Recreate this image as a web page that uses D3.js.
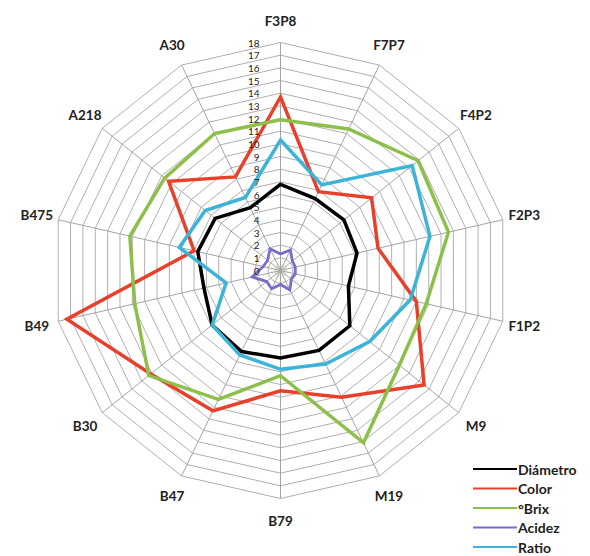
<!DOCTYPE html>
<html>
<head>
<meta charset="utf-8">
<script src="https://cdn.jsdelivr.net/npm/d3@7"></script>
<style>
  html, body { margin: 0; padding: 0; background: #fff; }
  svg { display: block; }
</style>
</head>
<body>
<div id="chart"></div>
<script>
// ---- data ----
const categories = ["F3P8","F7P7","F4P2","F2P3","F1P2","M9","M19","B79","B47","B30","B49","B475","A218","A30"];
const diametro = [6.8, 6.3, 6.4, 6.2, 5.5, 7.0, 7.0, 6.9, 7.1, 6.9, 6.2, 6.7, 6.6, 5.5];
const colorVals = [13.7, 6.9, 9.2, 7.9, 11.0, 14.5, 11.1, 9.5, 12.3, 13.1, 17.3, 7.0, 11.3, 8.2];
const brix = [11.9, 12.4, 13.9, 13.6, 11.8, 12.0, 15.1, 8.3, 11.3, 13.3, 11.8, 12.2, 11.7, 12.0];
const acidez = [1.3, 1.8, 1.2, 1.2, 1.2, 1.1, 1.7, 1.1, 1.6, 1.4, 2.3, 1.4, 1.3, 1.9];
const ratio = [10.3, 7.5, 13.3, 12.1, 10.5, 9.0, 8.2, 7.8, 7.4, 6.9, 4.4, 8.2, 7.6, 6.4];
const seriesNames = ["Diámetro", "Color", "°Brix", "Acidez", "Ratio"];
const tickValues = d3.range(0, 19);

const seriesData = [diametro, colorVals, brix, acidez, ratio];
const seriesColors = ["#000000", "#e8402a", "#8cc04a", "#7a6ccc", "#3cb4d8"];
const seriesWidths = [3.5, 3.5, 3.5, 2.8, 3.5];

// ---- layout ----
const W = 590, H = 556;
const cx = 280.5, cy = 270.5, R = 228;

const svg = d3.select("#chart").append("svg")
  .attr("width", W).attr("height", H)
  .style("background", "#fff");

const r = d3.scaleLinear().domain([0, 18]).range([0, R]);
const ang = d3.scaleLinear().domain([0, categories.length]).range([0, 2 * Math.PI]);

const g = svg.append("g").attr("transform", `translate(${cx},${cy})`);

// faint centre disk
g.append("circle").attr("r", 7).attr("fill", "#e9ecdc").attr("stroke", "none");

// rings
const ringLine = d3.lineRadial().curve(d3.curveLinearClosed)
  .angle((d, i) => ang(i)).radius(d => d);
tickValues.filter(v => v > 0).forEach(v => {
  g.append("path")
    .attr("d", ringLine(categories.map(() => r(v))))
    .attr("fill", "none")
    .attr("stroke", "#b0b0b4")
    .attr("stroke-width", 1);
});

// spokes
categories.forEach((c, i) => {
  const a = ang(i);
  g.append("line")
    .attr("x1", 0).attr("y1", 0)
    .attr("x2", r(18) * Math.sin(a)).attr("y2", -r(18) * Math.cos(a))
    .attr("stroke", "#a4a4a4").attr("stroke-width", 1);
});

// series
const seriesLine = d3.lineRadial().curve(d3.curveLinearClosed)
  .angle((d, i) => ang(i)).radius(d => r(d));
seriesData.forEach((vals, k) => {
  g.append("path")
    .attr("d", seriesLine(vals))
    .attr("fill", "none")
    .attr("stroke", seriesColors[k])
    .attr("stroke-width", seriesWidths[k])
    .attr("stroke-linejoin", "miter");
});

// tick labels along top spoke
g.selectAll("text.tick").data(tickValues).enter().append("text")
  .attr("class", "tick")
  .attr("x", -21)
  .attr("y", d => -r(d))
  .attr("text-anchor", "end")
  .attr("dominant-baseline", "central")
  .attr("font-family", "Lato, 'Liberation Sans', sans-serif")
  .attr("font-size", 10)
  .attr("fill", "#222")
  .text(d => d);

// category labels
const LR = R + 22;
g.selectAll("text.cat").data(categories).enter().append("text")
  .attr("class", "cat")
  .attr("x", (d, i) => LR * Math.sin(ang(i)))
  .attr("y", (d, i) => -LR * Math.cos(ang(i)))
  .attr("text-anchor", "middle")
  .attr("dominant-baseline", "central")
  .attr("font-family", "Lato, 'Open Sans', sans-serif")
  .attr("font-weight", "bold")
  .attr("font-size", 13.5)
  .attr("fill", "#222")
  .text(d => d);

// legend
const lg = svg.append("g").attr("transform", "translate(473,469)");
seriesNames.forEach((name, k) => {
  const y = k * 19.5;
  lg.append("line").attr("x1", 0).attr("x2", 44).attr("y1", y).attr("y2", y)
    .attr("stroke", seriesColors[k]).attr("stroke-width", 2.2);
  lg.append("text").attr("x", 45).attr("y", y)
    .attr("dominant-baseline", "central")
    .attr("font-family", "Lato, 'Open Sans', sans-serif")
    .attr("font-weight", "bold").attr("font-size", 14)
    .attr("fill", "#222")
    .text(name);
});
</script>
</body>
</html>
